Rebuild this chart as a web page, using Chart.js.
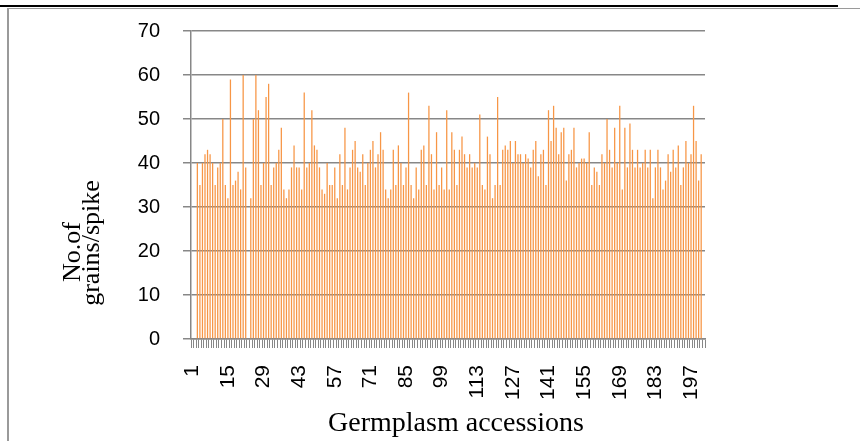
<!DOCTYPE html>
<html>
<head>
<meta charset="utf-8">
<script src="https://cdn.jsdelivr.net/npm/chart.js@4.4.1/dist/chart.umd.min.js"></script>
<style>
  body { margin: 0; background: #fff; }
  #wrap { position: relative; width: 860px; height: 441px; }
  #topline { position: absolute; left: 0; top: 5px; width: 838px; height: 2px; background: #000; }
  #box { position: absolute; left: 7px; top: 8px; right: 0; bottom: 0; border-left: 2px solid #9a9a9a; border-top: 1px solid #9a9a9a; }
  canvas { position: absolute; left: 0; top: 0; }
</style>
</head>
<body>
<div id="wrap">
  <canvas id="myChart" width="860" height="441"></canvas>
  <div id="topline"></div>
  <div id="box"></div>
</div>
<script>
// accessions 1..202, only every 14th is labelled
const nCategories = 202;
const categories = Array.from({length: nCategories}, (_, i) => String(i + 1));
const shownTicks = ["1", "15", "29", "43", "57", "71", "85", "99", "113", "127", "141", "155", "169", "183", "197"];
const yTicks = [0, 10, 20, 30, 40, 50, 60, 70];

// no. of grains per spike (null = no bar)
const grains = [
  null, null,
  40,35,40,42,43,42,40,35,39,40,
  50,35,32,59,35,36,38,34,60,39,
  null,32,50,60,52,35,40,55,58,35,39,
  40,43,48,34,32,34,39,44,39,39,
  34,56,39,40,52,44,43,39,34,33,
  40,35,35,39,32,42,35,48,34,39,43,45,39,38,
  42,35,40,43,45,39,42,47,43,34,
  32,34,43,35,44,40,35,39,56,35,
  32,39,34,43,44,35,53,42,34,47,
  35,39,34,52,
  34,47,43,35,43,46,42,39,42,39,
  40,39,51,35,34,46,42,32,35,55,
  35,43,44,43,45,40,45,42,42,40,
  42,41,39,43,
  45,37,42,43,35,52,45,53,48,42,
  47,48,36,42,43,48,39,40,41,41,
  40,47,35,39,38,35,42,40,50,43,
  39,48,40,53,
  34,48,39,49,43,39,43,39,40,43,
  39,43,32,39,43,39,34,36,42,38,
  43,39,44,35,39,45,40,42,53,45,
  36,42,
  null
];

const gridGray = "#878787";

// axis titles and the rotated x labels, drawn by hand so they sit where the original has them
const axisText = {
  id: "axisText",
  afterDraw(chart) {
    const ctx = chart.ctx;
    const xs = chart.scales.x;
    ctx.save();
    ctx.fillStyle = "#000";

    // x tick labels, reading upward, ending just under the tick marks
    ctx.font = '21px "Liberation Sans"';
    ctx.textAlign = "right";
    ctx.textBaseline = "middle";
    shownTicks.forEach(lab => {
      const x = xs.getPixelForValue(categories.indexOf(lab));
      ctx.save();
      ctx.translate(x, 365);
      ctx.rotate(-Math.PI / 2);
      ctx.fillText(lab, 0, 0);
      ctx.restore();
    });

    ctx.textAlign = "center";
    ctx.textBaseline = "alphabetic";
    ctx.font = '28px "Liberation Serif"';
    ctx.fillText("Germplasm accessions", 456, 431);
    ctx.rotate(-Math.PI / 2);
    ctx.font = '26px "Liberation Serif"';
    ctx.fillText("No.of", -252, 80);
    ctx.fillText("grains/spike", -243, 99);
    ctx.restore();
  }
};

new Chart("myChart", {
  type: "bar",
  data: {
    labels: categories,
    datasets: [{
      data: grains,
      backgroundColor: "#F79646",
      barPercentage: 0.5,
      categoryPercentage: 1.0
    }]
  },
  options: {
    responsive: false,
    devicePixelRatio: 1,
    animation: false,
    layout: { padding: { top: 31, right: 155, left: 0, bottom: 0 } },
    plugins: {
      legend: { display: false },
      tooltip: { enabled: false }
    },
    scales: {
      x: {
        afterFit(scale) { scale.height = 102; scale.paddingLeft = 0; scale.paddingRight = 0; },
        border: { color: gridGray, width: 1.5 },
        grid: { drawOnChartArea: false, drawTicks: true, tickLength: 9, color: gridGray, lineWidth: 1 },
        ticks: {
          autoSkip: false,
          maxRotation: 0,
          // every category keeps its tick mark; the numbers are drawn by axisText
          callback: () => ""
        }
      },
      y: {
        min: 0,
        max: 70,
        afterFit(scale) { scale.width = 191; scale.paddingTop = 0; scale.paddingBottom = 0; },
        afterBuildTicks(scale) { scale.ticks = yTicks.map(v => ({ value: v })); },
        border: { color: gridGray, width: 1.5 },
        grid: { color: gridGray, lineWidth: 1.5, tickLength: 8 },
        ticks: {
          padding: 23,
          color: "#000",
          font: { family: "Liberation Sans", size: 20 }
        }
      }
    }
  },
  plugins: [axisText]
});
</script>
</body>
</html>
